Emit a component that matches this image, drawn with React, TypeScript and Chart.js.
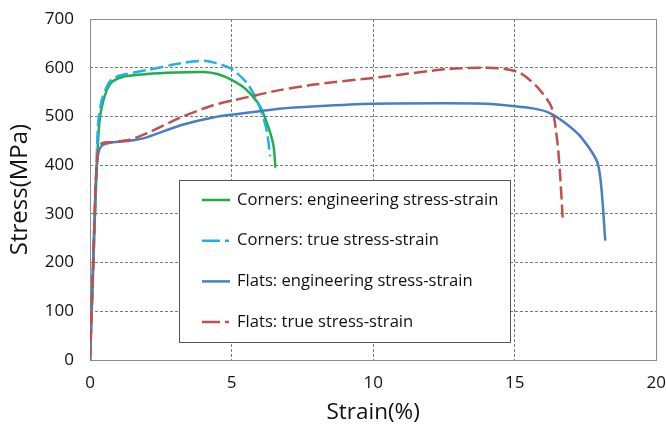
import React, { useEffect, useRef } from "react";
import { Chart, registerables } from "chart.js";

Chart.register(...registerables);

// Strain (%) / stress (MPa) pairs for each curve
const cornersEngStrain = [0, 0.1, 0.2, 0.3, 0.4, 0.6, 0.8, 1.2, 2.0, 3.0, 4.0, 4.5, 5.0, 5.5, 6.0, 6.3, 6.48, 6.55];
const cornersEngStress = [0, 170, 340, 465, 515, 555, 572, 582, 587, 590, 591, 587, 575, 556, 521, 478, 440, 395];

const cornersTrueStrain = [0, 0.1, 0.2, 0.28, 0.4, 0.6, 0.8, 1.2, 2.0, 3.2, 4.1, 4.7, 5.07, 5.55, 5.9, 6.12, 6.26, 6.36];
const cornersTrueStress = [0, 165, 335, 480, 530, 562, 578, 586, 595, 609, 614, 605, 595, 568, 533, 498, 465, 418];

const flatsEngStrain = [0, 0.1, 0.2, 0.28, 0.42, 0.8, 1.4, 2.0, 3.2, 4.35, 5.06, 6.7, 8.0, 10.0, 12.6, 14.0, 15.0, 15.7, 16.2, 16.75, 17.35, 17.95, 18.2];
const flatsEngStress = [0, 180, 360, 420, 440, 447, 450, 457, 482, 498, 504, 516, 521, 526, 527, 526, 521, 516, 508, 488, 457, 400, 245];

const flatsTrueStrain = [0, 0.1, 0.2, 0.28, 0.42, 0.8, 1.4, 2.0, 3.2, 4.35, 5.06, 6.7, 8.0, 10.3, 12.6, 14.0, 14.6, 15.2, 15.8, 16.3, 16.5, 16.6, 16.7];
const flatsTrueStress = [0, 180, 360, 425, 445, 447, 452, 465, 498, 523, 533, 554, 566, 581, 597, 600, 598, 589, 560, 519, 451, 383, 286];

const seriesLabels = [
  "Corners: engineering stress-strain",
  "Corners: true stress-strain",
  "Flats: engineering stress-strain",
  "Flats: true stress-strain",
];
const seriesColors = ["#1fae4b", "#1fb1ea", "#4a7ec4", "#c0504d"];
const seriesDashed = [false, true, false, true];

const xTicks = [0, 5, 10, 15, 20];
const yTicks = [0, 100, 200, 300, 400, 500, 600, 700];

const FONT = "'Open Sans', 'Noto Sans', sans-serif";
const TEXT = "#111111";

const zip = (xs: number[], ys: number[]) => xs.map((x, i) => ({ x, y: ys[i] }));

const frameAndLegend = {
  id: "frameAndLegend",
  beforeDatasetsDraw(chart: any) {
    const { ctx, chartArea } = chart;
    ctx.save();
    ctx.strokeStyle = "#8c8c8c";
    ctx.lineWidth = 1;
    ctx.setLineDash([]);
    ctx.strokeRect(
      Math.round(chartArea.left) + 0.5,
      Math.round(chartArea.top) + 0.5,
      Math.round(chartArea.right - chartArea.left),
      Math.round(chartArea.bottom - chartArea.top)
    );
    ctx.restore();
  },
  afterDatasetsDraw(chart: any) {
    const { ctx, chartArea } = chart;
    const bx = Math.round(chartArea.left + 89);
    const by = Math.round(chartArea.top + 161);
    const bw = 331;
    const bh = 162;
    ctx.save();
    ctx.fillStyle = "#ffffff";
    ctx.fillRect(bx, by, bw, bh);
    ctx.strokeStyle = "#555555";
    ctx.lineWidth = 1;
    ctx.setLineDash([]);
    ctx.strokeRect(bx + 0.5, by + 0.5, bw, bh);
    ctx.font = `16.6px ${FONT}`;
    ctx.textBaseline = "middle";
    ctx.textAlign = "left";
    seriesLabels.forEach((label, i) => {
      const cy = by + 20 + i * 40.7;
      const x0 = bx + 23;
      ctx.strokeStyle = seriesColors[i];
      ctx.lineWidth = 2.5;
      ctx.lineCap = "butt";
      ctx.beginPath();
      if (seriesDashed[i]) {
        ctx.moveTo(x0, cy);
        ctx.lineTo(x0 + 18, cy);
        ctx.moveTo(x0 + 23, cy);
        ctx.lineTo(x0 + 27, cy);
      } else {
        ctx.moveTo(x0, cy);
        ctx.lineTo(x0 + 28, cy);
      }
      ctx.stroke();
      ctx.fillStyle = TEXT;
      ctx.fillText(label, x0 + 35, cy);
    });
    ctx.restore();
  },
};

export default function App() {
  const canvasRef = useRef<HTMLCanvasElement | null>(null);

  useEffect(() => {
    if (!canvasRef.current) return;
    const xs = [cornersEngStrain, cornersTrueStrain, flatsEngStrain, flatsTrueStrain];
    const ys = [cornersEngStress, cornersTrueStress, flatsEngStress, flatsTrueStress];
    const gridColor = (c: any) =>
      c.tick && (c.tick.value === c.scale.min || c.tick.value === c.scale.max)
        ? "rgba(0,0,0,0)"
        : "#7a7a7a";

    const chart = new Chart(canvasRef.current, {
      type: "line",
      data: {
        datasets: seriesLabels.map((label, i) => ({
          label,
          data: zip(xs[i], ys[i]),
          borderColor: seriesColors[i],
          backgroundColor: seriesColors[i],
          borderWidth: 2.5,
          borderDash: seriesDashed[i] ? [13, 5] : [],
          pointRadius: 0,
          tension: 0.25,
          fill: false,
          order: 3 - i,
        })),
      },
      options: {
        animation: false,
        responsive: false,
        maintainAspectRatio: false,
        layout: { padding: { left: 0, right: 9, top: 19, bottom: 0 } },
        plugins: {
          legend: { display: false },
          tooltip: { enabled: false },
        },
        scales: {
          x: {
            type: "linear",
            min: 0,
            max: 20,
            afterBuildTicks: (s: any) => {
              s.ticks = xTicks.map((v) => ({ value: v }));
            },
            afterFit: (s: any) => {
              s.height = 67;
            },
            ticks: {
              padding: 0,
              color: TEXT,
              font: { family: FONT, size: 17 },
            },
            grid: {
              color: gridColor,
              drawTicks: true,
              tickLength: 13,
              tickColor: "rgba(0,0,0,0)",
              lineWidth: 1,
            },
            border: { display: false, dash: [3, 2] },
            title: {
              display: true,
              text: "Strain(%)",
              color: TEXT,
              font: { family: FONT, size: 22.5 },
              padding: { top: 0, bottom: 0.5 },
            },
          },
          y: {
            type: "linear",
            min: 0,
            max: 700,
            afterBuildTicks: (s: any) => {
              s.ticks = yTicks.map((v) => ({ value: v }));
            },
            afterFit: (s: any) => {
              s.width = 90;
            },
            ticks: {
              padding: 0,
              color: TEXT,
              font: { family: FONT, size: 17 },
            },
            grid: {
              color: gridColor,
              drawTicks: true,
              tickLength: 16,
              tickColor: "rgba(0,0,0,0)",
              lineWidth: 1,
            },
            border: { display: false, dash: [3, 2] },
            title: {
              display: true,
              text: "Stress(MPa)",
              color: TEXT,
              font: { family: FONT, size: 24 },
              padding: { top: 6, bottom: 0 },
            },
          },
        },
      },
      plugins: [frameAndLegend],
    });
    return () => chart.destroy();
  }, []);

  return (
    <div style={{ position: "fixed", left: 0, top: 0, width: 666, height: 427, background: "#fff" }}>
      <canvas ref={canvasRef} width={666} height={427} style={{ display: "block" }} />
    </div>
  );
}
